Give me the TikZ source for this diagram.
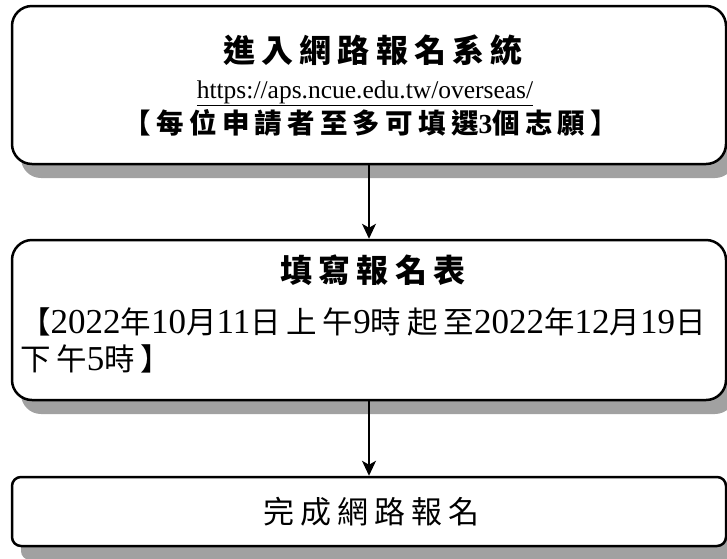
\documentclass[tikz,border=0pt]{standalone}
\usepackage{fontspec}
\setmainfont{Liberation Serif}
\newfontfamily\cjk[LetterSpace=19]{Noto Sans CJK TC}
\usetikzlibrary{arrows.meta,shadows}

\def\fs#1{\fontsize{#1}{#1}\selectfont}

\tikzset{
  stepbox/.style={draw, line width=2.5pt, rounded corners=20pt, fill=white,
    minimum width=714pt, inner sep=0pt,
    drop shadow={shadow xshift=9pt, shadow yshift=-14pt, fill=black!37, opacity=1}},
  flow/.style={line width=1.2pt, -{Stealth[length=15pt, width=14pt, inset=4pt]}}
}

\begin{document}
\begin{tikzpicture}[x=1pt, y=-1pt]
      \useasboundingbox (0,0) rectangle (727,558);
      \node[stepbox, minimum height=158pt] (reg) at (369,85) {};
      \node[stepbox, minimum height=160pt] (form) at (369,320) {};
      \node[stepbox, rounded corners=9pt, minimum height=69pt, font=\cjk\fs{31}] (done) at (369,511.5) {\hspace*{5pt}完成網路報名};
      \node[anchor=base, font=\cjk\bfseries\fs{32}] (regtitle) at (373,62) {進入網路報名系統};
      \node[anchor=base, font=\fs{25.5}] (regurl) at (365,98) {\underline{https://aps.ncue.edu.tw/overseas/}};
      \node[anchor=base, font=\bfseries\fs{27.5}] (regnote) at (371,133) {{\cjk 【每位申請者至多可填選}3{\cjk 個志願】}};
      \node[anchor=base, font=\cjk\bfseries\fs{32}] (formtitle) at (373,282) {填寫報名表};
      \node[anchor=base west, inner sep=0pt, font=\fs{35}] (formtime) at (20,333) {{\cjk\fs{30.5}【}2022{\cjk\fs{30.5}年}10{\cjk\fs{30.5}月}11{\cjk\fs{30.5}日上午}9{\cjk\fs{30.5}時起至}2022{\cjk\fs{30.5}年}12{\cjk\fs{30.5}月}19{\cjk\fs{30.5}日}};
      \node[anchor=base west, inner sep=0pt, font=\fs{35}] (formend) at (20,370) {{\cjk\fs{30.5}下午}5{\cjk\fs{30.5}時】}};
      \draw[flow] (reg.south) -- (form.north);
      \draw[flow] (form.south) -- (done.north);
    \end{tikzpicture}
\end{document}
